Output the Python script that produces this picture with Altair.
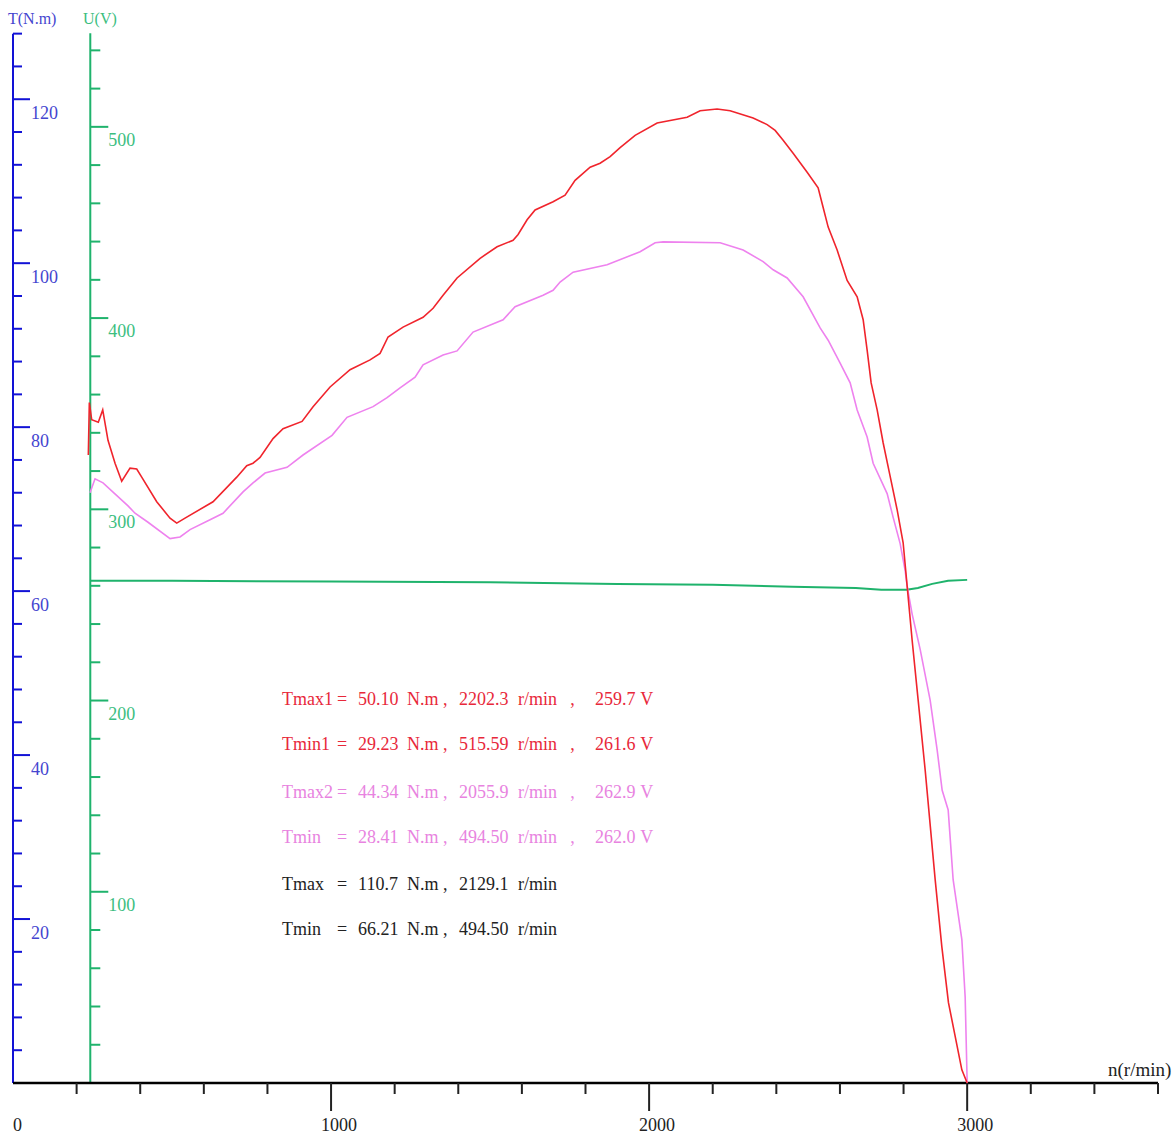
import altair as alt
import pandas as pd

# ---------------- data ----------------
red_n = [236.8, 240.0, 247.5, 268.2, 282.1, 298.7, 320.8, 341.8, 367.9, 389.0, 404.7, 451.9,
         493.7, 514.8, 540.9, 628.9, 703.5, 734.9, 754.7, 776.7, 817.6, 849.1, 908.8, 943.4,
         996.9, 1059.7, 1122.6, 1154.1, 1179.2, 1226.4, 1289.3, 1320.8, 1352.2, 1396.2, 1468.6,
         1522.0, 1572.3, 1588.1, 1616.4, 1641.5, 1698.1, 1735.8, 1767.3, 1814.5, 1845.9, 1877.4,
         1908.8, 1956.0, 2025.2, 2119.5, 2160.4, 2213.8, 2254.7, 2327.0, 2371.1, 2396.2, 2421.4,
         2452.8, 2496.9, 2531.4, 2547.2, 2563.0, 2591.2, 2622.6, 2654.1, 2673.0, 2685.5, 2698.1,
         2717.0, 2735.8, 2757.9, 2779.9, 2798.7, 2811.3, 2827.0, 2845.9, 2867.9, 2899.4, 2920.4,
         2941.2, 2983.3, 3000.0]
red_t = [76.6, 83.0, 80.9, 80.6, 82.1, 78.4, 75.6, 73.4, 75.0, 74.9, 73.9, 70.9,
         68.9, 68.3, 68.9, 70.9, 73.9, 75.3, 75.6, 76.3, 78.6, 79.8, 80.7, 82.5,
         84.9, 87.0, 88.2, 89.0, 91.0, 92.2, 93.4, 94.5, 96.1, 98.2, 100.6,
         102.0, 102.8, 103.5, 105.3, 106.5, 107.5, 108.3, 110.1, 111.7, 112.2, 113.0,
         114.1, 115.6, 117.1, 117.8, 118.6, 118.8, 118.6, 117.7, 116.9, 116.2, 115.0,
         113.4, 111.1, 109.2, 106.8, 104.4, 101.6, 97.9, 95.9, 93.1, 89.4, 85.4,
         82.1, 78.1, 74.0, 69.9, 65.9, 60.6, 54.0, 46.7, 38.2, 24.8, 16.6,
         9.8, 1.6, 0.0]

pink_n = [242.1, 257.9, 283.0, 361.6, 383.6, 424.5, 493.7, 525.2, 556.6, 619.5, 660.4, 723.3,
          754.7, 792.5, 861.6, 911.9, 1003.1, 1050.3, 1132.1, 1176.1, 1217.0, 1264.2, 1289.3,
          1352.2, 1396.2, 1446.5, 1540.9, 1578.6, 1666.7, 1698.1, 1720.1, 1761.0, 1867.9, 1971.7,
          2018.9, 2044.0, 2223.3, 2295.6, 2358.5, 2390.0, 2434.0, 2484.3, 2537.7, 2562.9, 2600.6,
          2632.1, 2654.1, 2685.5, 2704.4, 2748.4, 2767.3, 2789.3, 2805.0, 2811.3, 2827.0, 2852.2,
          2883.6, 2905.7, 2921.4, 2940.3, 2955.9, 2983.3, 2993.7, 3000.0]
pink_t = [72.0, 73.7, 73.2, 70.4, 69.5, 68.4, 66.4, 66.6, 67.5, 68.7, 69.5, 72.1,
          73.2, 74.4, 75.1, 76.6, 79.0, 81.2, 82.5, 83.6, 84.8, 86.1, 87.6,
          88.8, 89.3, 91.6, 93.1, 94.7, 96.1, 96.7, 97.7, 98.9, 99.8, 101.4,
          102.5, 102.6, 102.5, 101.6, 100.2, 99.2, 98.2, 95.9, 92.1, 90.6, 87.8,
          85.4, 82.1, 78.8, 75.6, 71.9, 69.0, 65.8, 62.5, 60.6, 57.2, 52.9,
          46.7, 40.6, 35.7, 33.3, 24.8, 17.5, 10.5, 0.0]

u_n = [242, 500, 1000, 1500, 1900, 2200, 2450, 2650, 2730, 2810, 2845, 2890, 2940, 3000]
u_v = [262.6, 262.6, 262.3, 261.8, 261.0, 260.5, 259.5, 258.9, 257.9, 257.9, 258.9, 261.0, 262.6, 263.1]

t_ticks = list(range(4, 129, 4))
t_major = [20, 40, 60, 80, 100, 120]
u_ticks = list(range(20, 541, 20))
u_major = [100, 200, 300, 400, 500]
n_ticks = list(range(200, 3601, 200))
n_major = [1000, 2000, 3000]
n_labels = ["0", "1000", "2000", "3000"]

# annotation block
ann_rows = [
    ["Tmax1", "=", "50.10", "N.m", ",", "2202.3", "r/min", ",", "259.7", "V"],
    ["Tmin1", "=", "29.23", "N.m", ",", "515.59", "r/min", ",", "261.6", "V"],
    ["Tmax2", "=", "44.34", "N.m", ",", "2055.9", "r/min", ",", "262.9", "V"],
    ["Tmin", "=", "28.41", "N.m", ",", "494.50", "r/min", ",", "262.0", "V"],
    ["Tmax", "=", "110.7", "N.m", ",", "2129.1", "r/min"],
    ["Tmin", "=", "66.21", "N.m", ",", "494.50", "r/min"],
]
ann_colors = ["#E8283A", "#E8283A", "#E883E0", "#E883E0", "#222222", "#222222"]
# annotation anchor grid (x in r/min, y in N.m)
ann_col_n = [846, 1019, 1085, 1239, 1352, 1402, 1588, 1752, 1830, 1972]
ann_row_t = [46.74, 41.25, 35.40, 29.91, 24.18, 18.69]

U_AXIS_N = 243
T_TOP = 128
U_TOP = 549

# ---------------- styles ----------------
FONT = "Liberation Serif"
BLUE = "#1212D6"
BLUE_TXT = "#4545CF"
GREEN = "#1FB36C"
GREEN_TXT = "#3CBE7F"
RED = "#F0242C"
PINK = "#EE82EE"

xs = alt.Scale(domain=[0, 3600], nice=False, zero=False)
ts = alt.Scale(domain=[0, 128.2], nice=False, zero=False)
us = alt.Scale(domain=[0, 549.6], nice=False, zero=False)

W, H = 1145, 1051

X = lambda f: alt.X(f, type="quantitative", scale=xs, axis=None)
YT = lambda f: alt.Y(f, type="quantitative", scale=ts, axis=None)
YU = lambda f: alt.Y(f, type="quantitative", scale=us, axis=None)

# ---------------- frames ----------------
df_red = pd.DataFrame({"n": red_n, "t": red_t})
df_pink = pd.DataFrame({"n": pink_n, "t": pink_t})
df_u = pd.DataFrame({"n": u_n, "u": u_v})
df_tt = pd.DataFrame({"t": t_ticks, "major": [v in t_major for v in t_ticks]})
df_ut = pd.DataFrame({"u": u_ticks, "n": U_AXIS_N, "major": [v in u_major for v in u_ticks]})
df_nt = pd.DataFrame({"n": n_ticks, "major": [v in n_major for v in n_ticks]})
df_nl = pd.DataFrame({"n": [0] + n_major, "lab": n_labels})
df_tl = pd.DataFrame({"t": t_major, "lab": [str(v) for v in t_major]})
df_ul = pd.DataFrame({"u": u_major, "n": U_AXIS_N, "lab": [str(v) for v in u_major]})

ann = []
for r, (row, col) in enumerate(zip(ann_rows, ann_colors)):
    for c, txt in enumerate(row):
        ann.append({"n": ann_col_n[c], "t": ann_row_t[r], "txt": txt, "col": col})
df_ann = pd.DataFrame(ann)

layers = []

# T axis (blue)
layers.append(alt.Chart(pd.DataFrame({"a": [0], "b": [T_TOP]})).mark_rule(color=BLUE, strokeWidth=2).encode(
    x=alt.value(0), y=YT("a"), y2="b"))
layers.append(alt.Chart(df_tt).transform_filter("datum.major").mark_rule(color=BLUE, strokeWidth=2).encode(
    x=alt.value(0), x2=alt.value(17), y=YT("t")))
layers.append(alt.Chart(df_tt).transform_filter("!datum.major").mark_rule(color=BLUE, strokeWidth=2).encode(
    x=alt.value(0), x2=alt.value(9), y=YT("t")))
layers.append(alt.Chart(df_tl).mark_text(font=FONT, fontSize=18, color=BLUE_TXT, align="left",
                                         baseline="middle", dx=18, dy=15).encode(
    x=alt.value(0), y=YT("t"), text="lab:N"))

# U axis (green)
layers.append(alt.Chart(pd.DataFrame({"n": [U_AXIS_N], "a": [0], "b": [U_TOP]})).mark_rule(
    color=GREEN, strokeWidth=2).encode(x=X("n"), y=YU("a"), y2="b"))
layers.append(alt.Chart(df_ut).transform_filter("datum.major").mark_rule(
    color=GREEN, strokeWidth=2, x2Offset=18).encode(x=X("n"), x2="n", y=YU("u")))
layers.append(alt.Chart(df_ut).transform_filter("!datum.major").mark_rule(
    color=GREEN, strokeWidth=2, x2Offset=10).encode(x=X("n"), x2="n", y=YU("u")))
layers.append(alt.Chart(df_ul).mark_text(font=FONT, fontSize=18, color=GREEN_TXT, align="left",
                                         baseline="middle", dx=18, dy=14).encode(
    x=X("n"), y=YU("u"), text="lab:N"))

# n axis (black)
layers.append(alt.Chart(pd.DataFrame({"a": [0], "b": [3600]})).mark_rule(color="#000000", strokeWidth=2.5).encode(
    x=X("a"), x2="b", y=alt.value(H)))
layers.append(alt.Chart(df_nt).transform_filter("datum.major").mark_rule(color="#222222", strokeWidth=2).encode(
    x=X("n"), y=alt.value(H), y2=alt.value(H + 28)))
layers.append(alt.Chart(df_nt).transform_filter("!datum.major").mark_rule(color="#222222", strokeWidth=2).encode(
    x=X("n"), y=alt.value(H), y2=alt.value(H + 11)))
layers.append(alt.Chart(df_nl).transform_filter("datum.n > 0").mark_text(
    font=FONT, fontSize=18, color="#222222", align="center", baseline="middle", dx=8).encode(
    x=X("n"), y=alt.value(H + 43), text="lab:N"))
layers.append(alt.Chart(df_nl).transform_filter("datum.n == 0").mark_text(
    font=FONT, fontSize=18, color="#222222", align="left", baseline="middle", dx=0).encode(
    x=X("n"), y=alt.value(H + 43), text="lab:N"))

# axis titles
layers.append(alt.Chart(pd.DataFrame({"lab": ["T(N.m)"]})).mark_text(
    font=FONT, fontSize=16, color=BLUE_TXT, align="left", baseline="middle").encode(
    x=alt.value(-5), y=alt.value(-13), text="lab:N"))
layers.append(alt.Chart(pd.DataFrame({"lab": ["U(V)"]})).mark_text(
    font=FONT, fontSize=16, color=GREEN_TXT, align="left", baseline="middle").encode(
    x=alt.value(70), y=alt.value(-13), text="lab:N"))
layers.append(alt.Chart(pd.DataFrame({"lab": ["n(r/min)"]})).mark_text(
    font=FONT, fontSize=19, color="#222222", align="left", baseline="middle").encode(
    x=alt.value(1095), y=alt.value(1038), text="lab:N"))

# curves
layers.append(alt.Chart(df_u).mark_line(color=GREEN, strokeWidth=2).encode(x=X("n"), y=YU("u"), order="n:Q"))
layers.append(alt.Chart(df_pink).mark_line(color=PINK, strokeWidth=1.6).encode(x=X("n"), y=YT("t"), order=alt.Order("idx:Q")).transform_window(idx="row_number()"))
layers.append(alt.Chart(df_red).mark_line(color=RED, strokeWidth=1.6).encode(x=X("n"), y=YT("t"), order=alt.Order("idx:Q")).transform_window(idx="row_number()"))

# annotation text
layers.append(alt.Chart(df_ann).mark_text(font=FONT, fontSize=18, align="left", baseline="middle").encode(
    x=X("n"), y=YT("t"), text="txt:N", color=alt.Color("col:N", scale=None)))

chart = alt.layer(*layers).resolve_scale(y="independent").properties(
    width=W, height=H,
    autosize=alt.AutoSizeParams(type="none"),
    padding={"left": 13, "top": 32, "right": 17, "bottom": 54},
    background="white",
).configure_view(stroke=None)

chart.save("out.html", embed_options={"renderer": "svg", "actions": False})
